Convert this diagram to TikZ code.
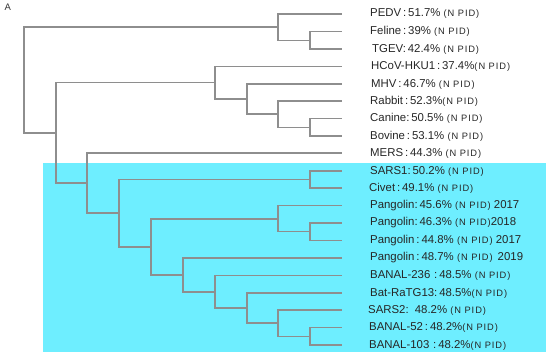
\documentclass[tikz,border=0pt]{standalone}
\usepackage{fontspec}
\setmainfont{Liberation Sans}
\newfontfamily\pid[LetterSpace=10]{Liberation Sans}
\usepackage{tikz}
\usetikzlibrary{positioning,calc}

\definecolor{hilite}{HTML}{6EEEFF}
\definecolor{treegray}{HTML}{8E8E8E}

\begin{document}
\begin{tikzpicture}[x=1pt, y=-1pt,
    branch/.style={draw=treegray, line width=1.4pt},
    leaf/.style={anchor=west, inner sep=0pt, font=\fontsize{11.4}{12}\selectfont, text=black!85}]
    \useasboundingbox (0,0) rectangle (550,356);
    % Highlight
    \fill[hilite] (43,163) rectangle (546,352);
    \node (panel) [anchor=north west, inner sep=0pt, font=\fontsize{9.5}{10}\selectfont, text=black!80] at (4.5,3.5) {A};

    % Tips
    \coordinate (t0) at (342,14);
    \coordinate (t1) at (342,31.5);
    \coordinate (t2) at (342,49);
    \coordinate (t3) at (342,66.5);
    \coordinate (t4) at (342,84);
    \coordinate (t5) at (342,101);
    \coordinate (t6) at (342,118.5);
    \coordinate (t7) at (342,136);
    \coordinate (t8) at (342,153);
    \coordinate (t9) at (342,171);
    \coordinate (t10) at (342,188);
    \coordinate (t11) at (342,205.5);
    \coordinate (t12) at (342,223);
    \coordinate (t13) at (342,240.5);
    \coordinate (t14) at (342,258);
    \coordinate (t15) at (342,275.5);
    \coordinate (t16) at (342,293);
    \coordinate (t17) at (342,310);
    \coordinate (t18) at (342,327.5);
    \coordinate (t19) at (342,345);

    % Inner nodes
    \coordinate (root) at (24,80);
    \coordinate (nFT) at (310,40.25);
    \coordinate (nPEDV) at (278,27);
    \coordinate (nCB) at (310,127.25);
    \coordinate (nRab) at (278,114);
    \coordinate (nMHV) at (247,99);
    \coordinate (nHK) at (215,82.5);
    \coordinate (nBeta) at (56,133);
    \coordinate (nMERS) at (87,183);
    \coordinate (nSars) at (119,213);
    \coordinate (nSC) at (310,179.5);
    \coordinate (nPan) at (151,247);
    \coordinate (nP1) at (310,231.75);
    \coordinate (nP2) at (278,219);
    \coordinate (n2019) at (183,275);
    \coordinate (n236) at (215,292);
    \coordinate (nRa) at (247,308);
    \coordinate (nS2) at (278,323);
    \coordinate (nB52) at (310,336.25);

    % Branches
    \draw[branch] (root) |- (nPEDV);
    \draw[branch] (root) |- (nBeta);
    \draw[branch] (nPEDV) |- (t0);
    \draw[branch] (nPEDV) |- (nFT);
    \draw[branch] (nFT) |- (t1);
    \draw[branch] (nFT) |- (t2);
    \draw[branch] (nBeta) |- (nHK);
    \draw[branch] (nBeta) |- (nMERS);
    \draw[branch] (nHK) |- (t3);
    \draw[branch] (nHK) |- (nMHV);
    \draw[branch] (nMHV) |- (t4);
    \draw[branch] (nMHV) |- (nRab);
    \draw[branch] (nRab) |- (t5);
    \draw[branch] (nRab) |- (nCB);
    \draw[branch] (nCB) |- (t6);
    \draw[branch] (nCB) |- (t7);
    \draw[branch] (nMERS) |- (t8);
    \draw[branch] (nMERS) |- (nSars);
    \draw[branch] (nSars) |- (nSC);
    \draw[branch] (nSars) |- (nPan);
    \draw[branch] (nSC) |- (t9);
    \draw[branch] (nSC) |- (t10);
    \draw[branch] (nPan) |- (nP2);
    \draw[branch] (nPan) |- (n2019);
    \draw[branch] (nP2) |- (t11);
    \draw[branch] (nP2) |- (nP1);
    \draw[branch] (nP1) |- (t12);
    \draw[branch] (nP1) |- (t13);
    \draw[branch] (n2019) |- (t14);
    \draw[branch] (n2019) |- (n236);
    \draw[branch] (n236) |- (t15);
    \draw[branch] (n236) |- (nRa);
    \draw[branch] (nRa) |- (t16);
    \draw[branch] (nRa) |- (nS2);
    \draw[branch] (nS2) |- (t17);
    \draw[branch] (nS2) |- (nB52);
    \draw[branch] (nB52) |- (t18);
    \draw[branch] (nB52) |- (t19);

    % Labels
    \node (pedv) [leaf, right=28pt of t0] {PEDV\,:\,51.7\% {\pid\fontsize{9.3}{10}\selectfont (N PID)}};
    \node (feline) [leaf, right=28pt of t1] {Feline\,:\,39\% {\pid\fontsize{9.3}{10}\selectfont (N PID)}};
    \node (tgev) [leaf, right=30pt of t2] {TGEV:\,42.4\% {\pid\fontsize{9.3}{10}\selectfont (N PID)}};
    \node (hku1) [leaf, right=29pt of t3] {HCoV-HKU1\,:\,37.4\%{\pid\fontsize{9.3}{10}\selectfont (N PID)}};
    \node (mhv) [leaf, right=29pt of t4] {MHV\,:\,46.7\% {\pid\fontsize{9.3}{10}\selectfont (N PID)}};
    \node (rabbit) [leaf, right=28pt of t5] {Rabbit\,:\,52.3\%{\pid\fontsize{9.3}{10}\selectfont (N PID)}};
    \node (canine) [leaf, right=28pt of t6] {Canine:\,50.5\% {\pid\fontsize{9.3}{10}\selectfont (N PID)}};
    \node (bovine) [leaf, right=28pt of t7] {Bovine\,:\,53.1\% {\pid\fontsize{9.3}{10}\selectfont (N PID)}};
    \node (mers) [leaf, right=28pt of t8] {MERS\,:\,44.3\% {\pid\fontsize{9.3}{10}\selectfont (N PID)}};
    \node (sars1) [leaf, right=28pt of t9] {SARS1:\,50.2\% {\pid\fontsize{9.3}{10}\selectfont (N PID)}};
    \node (civet) [leaf, right=27pt of t10] {Civet\,:\,49.1\% {\pid\fontsize{9.3}{10}\selectfont (N PID)}};
    \node (pang1) [leaf, right=28pt of t11] {Pangolin:\,45.6\% {\pid\fontsize{9.3}{10}\selectfont (N PID)} 2017};
    \node (pang2) [leaf, right=28pt of t12] {Pangolin:\,46.3\% {\pid\fontsize{9.3}{10}\selectfont (N PID)}2018};
    \node (pang3) [leaf, right=28pt of t13] {Pangolin\,:\,44.8\% {\pid\fontsize{9.3}{10}\selectfont (N PID)} 2017};
    \node (pang4) [leaf, right=28pt of t14] {Pangolin\,:\,48.7\% {\pid\fontsize{9.3}{10}\selectfont (N PID)}\, 2019};
    \node (banal236) [leaf, right=28pt of t15] {BANAL-236\,\,:\,48.5\% {\pid\fontsize{9.3}{10}\selectfont (N PID)}};
    \node (ratg13) [leaf, right=28pt of t16] {Bat-RaTG13:\,48.5\%{\pid\fontsize{9.3}{10}\selectfont (N PID)}};
    \node (sars2) [leaf, right=26pt of t17] {SARS2:\, 48.2\% {\pid\fontsize{9.3}{10}\selectfont (N PID)}};
    \node (banal52) [leaf, right=27pt of t18] {BANAL-52\,:\,48.2\%{\pid\fontsize{9.3}{10}\selectfont (N PID)}};
    \node (banal103) [leaf, right=27pt of t19] {BANAL-103\,\,:\,48.2\%{\pid\fontsize{9.3}{10}\selectfont (N PID)}};
\end{tikzpicture}
\end{document}
